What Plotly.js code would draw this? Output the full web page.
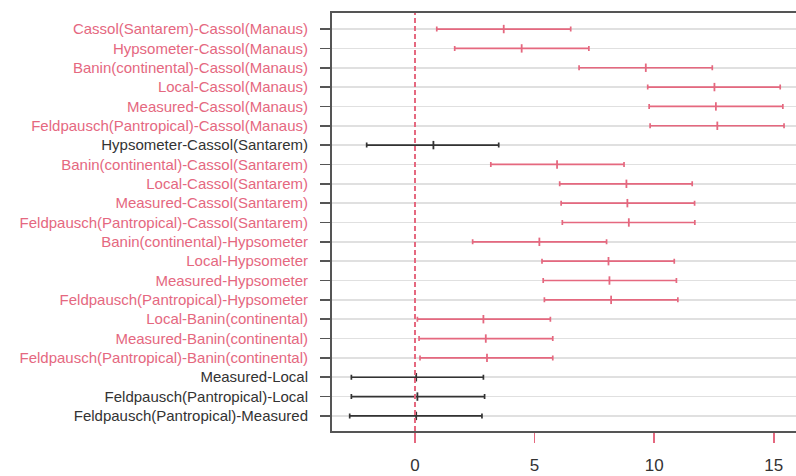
<!DOCTYPE html>
<html>
<head>
<meta charset="utf-8">
<script src="https://cdn.plot.ly/plotly-3.0.1.min.js"></script>
<style>html,body{margin:0;padding:0;background:#fff;}#chart{width:796px;height:476px;}</style>
</head>
<body>
<div id="chart"></div>
<script>
// Comparisons (top to bottom)
const comparisons = [
  "Cassol(Santarem)-Cassol(Manaus)",
  "Hypsometer-Cassol(Manaus)",
  "Banin(continental)-Cassol(Manaus)",
  "Local-Cassol(Manaus)",
  "Measured-Cassol(Manaus)",
  "Feldpausch(Pantropical)-Cassol(Manaus)",
  "Hypsometer-Cassol(Santarem)",
  "Banin(continental)-Cassol(Santarem)",
  "Local-Cassol(Santarem)",
  "Measured-Cassol(Santarem)",
  "Feldpausch(Pantropical)-Cassol(Santarem)",
  "Banin(continental)-Hypsometer",
  "Local-Hypsometer",
  "Measured-Hypsometer",
  "Feldpausch(Pantropical)-Hypsometer",
  "Local-Banin(continental)",
  "Measured-Banin(continental)",
  "Feldpausch(Pantropical)-Banin(continental)",
  "Measured-Local",
  "Feldpausch(Pantropical)-Local",
  "Feldpausch(Pantropical)-Measured"
];
const lwr  = [0.91, 1.66, 6.86, 9.73, 9.79, 9.83, -2.02, 3.17, 6.05, 6.11, 6.16, 2.41, 5.31, 5.36, 5.41, 0.10, 0.17, 0.21, -2.66, -2.66, -2.73];
const diff = [3.71, 4.46, 9.65, 12.52, 12.58, 12.64, 0.77, 5.94, 8.84, 8.88, 8.94, 5.20, 8.09, 8.13, 8.20, 2.86, 2.96, 3.01, 0.05, 0.10, 0.05];
const upr  = [6.51, 7.27, 12.43, 15.27, 15.38, 15.43, 3.50, 8.74, 11.59, 11.69, 11.70, 8.01, 10.84, 10.93, 10.99, 5.66, 5.76, 5.76, 2.86, 2.91, 2.80];
const xTicks = [0, 5, 10, 15];

const PINK = "#e5687f";
const DARK = "#333333";
const n = comparisons.length;
const yPos = comparisons.map((_, i) => n - i);
const sig = lwr.map(v => v > 0);

function group(flag, color) {
  const idx = [];
  for (let i = 0; i < n; i++) if (sig[i] === flag) idx.push(i);
  return {
    type: "scatter", mode: "markers",
    x: idx.map(i => diff[i]), y: idx.map(i => yPos[i]),
    marker: {symbol: "line-ns-open", size: 6, color: color, line: {color: color, width: 1.8}},
    error_x: {type: "data", symmetric: false,
      array: idx.map(i => upr[i] - diff[i]),
      arrayminus: idx.map(i => diff[i] - lwr[i]),
      color: color, thickness: 1.7, width: 2.5},
    hoverinfo: "skip", showlegend: false
  };
}

const ticktext = comparisons.map((c, i) =>
  '<span style="color:' + (sig[i] ? PINK : DARK) + '">' + c + '</span>');

const layout = {
  width: 796, height: 476,
  margin: {l: 332, r: 0, t: 13, b: 45},
  paper_bgcolor: "#fff", plot_bgcolor: "#fff",
  font: {family: "Liberation Sans, Arial, sans-serif"},
  xaxis: {
    range: [-3.47, 15.93], tickvals: xTicks, ticktext: xTicks.map(String),
    showgrid: false, zeroline: false,
    showline: true, mirror: true, linecolor: "#555", linewidth: 2,
    ticks: "outside", ticklen: 10, tickwidth: 1.5, tickcolor: PINK,
    tickfont: {size: 17, color: "#333"}, ticklabelstandoff: 8
  },
  yaxis: {
    range: [0.22, n + 0.83], tickvals: yPos, ticktext: ticktext,
    showgrid: true, gridcolor: "#e0e0e0", gridwidth: 1.6, zeroline: false,
    showline: true, linecolor: "#555", linewidth: 2,
    ticks: "outside", ticklen: 10, tickwidth: 1.6, tickcolor: "#555",
    tickfont: {size: 15, color: DARK}, ticklabelstandoff: 9
  },
  shapes: [{type: "line", xref: "x", yref: "paper", x0: 0, x1: 0, y0: 0, y1: 1,
    line: {color: PINK, width: 2, dash: "5px,3px"}, layer: "above"}],
  hovermode: false
};

Plotly.newPlot("chart", [group(false, DARK), group(true, PINK)], layout, {displayModeBar: false, staticPlot: true});
</script>
</body>
</html>
